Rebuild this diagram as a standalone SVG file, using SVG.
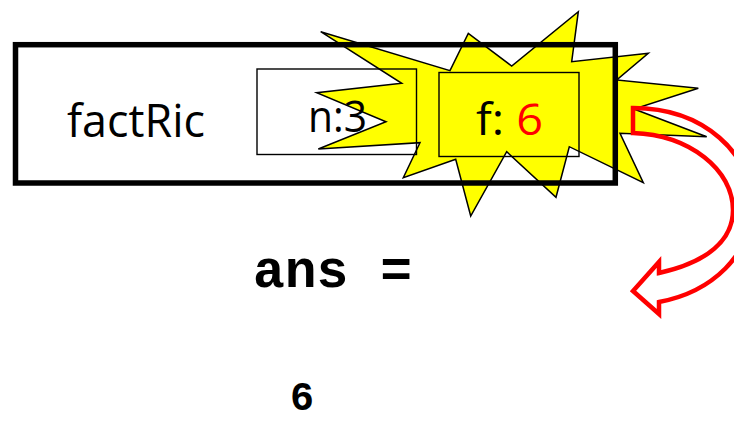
<svg xmlns="http://www.w3.org/2000/svg" width="734" height="421" viewBox="0 0 734 421">
<style>
.lbl{font-family:"Open Sans","Noto Sans","DejaVu Sans",sans-serif;fill:#000}
.mono{font-family:"Liberation Mono","Courier New",monospace;font-weight:bold;fill:#000}
.thin{fill:none;stroke:#000;stroke-width:1.4}
</style>
<rect x="0" y="0" width="734" height="421" fill="#fff"/>
<g id="burst">
<polygon points="320.7,31.7 450,70.7 468.3,33.3 511.7,66 578.3,11.7 571.7,61.7 648.3,53.3 616.7,80 698.3,88.3 634,109 706.7,136.7 620,133.3 643.3,182.7 569.3,146.7 556,197.3 506.7,151.7 470.7,216 455.7,159.3 403.3,177.7 420,142.7 318.3,149 386,121.7 316.7,92.7 401.7,83.3" fill="#ffff00" stroke="#000" stroke-width="1.5" stroke-linejoin="miter"/>
</g>
<g id="frame">
<rect x="15.5" y="44.7" width="599.8" height="138.3" fill="none" stroke="#000" stroke-width="5.5"/>
<text class="lbl" x="67" y="136.5" font-size="46" textLength="138" lengthAdjust="spacingAndGlyphs">factRic</text>
</g>
<g id="var-n">
<rect class="thin" x="257" y="69" width="159.5" height="85.5"/>
<text class="lbl" x="308" y="132" font-size="44" textLength="59" lengthAdjust="spacingAndGlyphs">n:3</text>
</g>
<g id="var-f">
<rect class="thin" x="439" y="72.5" width="140" height="84"/>
<text class="lbl" x="476" y="135" font-size="44" textLength="67" lengthAdjust="spacingAndGlyphs">f: <tspan fill="#ff0000">6</tspan></text>
</g>
<g id="connectors">
<path d="M633,108 C705,108 752,155 752,205 C752,255 712,292 659,302 L659,314 L633,291 L659,262 L659,273 C708,262 733,240 733,210 C733,170 690,135 633,133 Z" fill="none" stroke="#ff0000" stroke-width="4.5" stroke-linejoin="miter"/>
</g>
<g id="output">
<text class="mono" x="290" y="409.5" font-size="40">6</text>
<text class="mono" x="253" y="287" font-size="53">ans =</text>
</g>
</svg>
